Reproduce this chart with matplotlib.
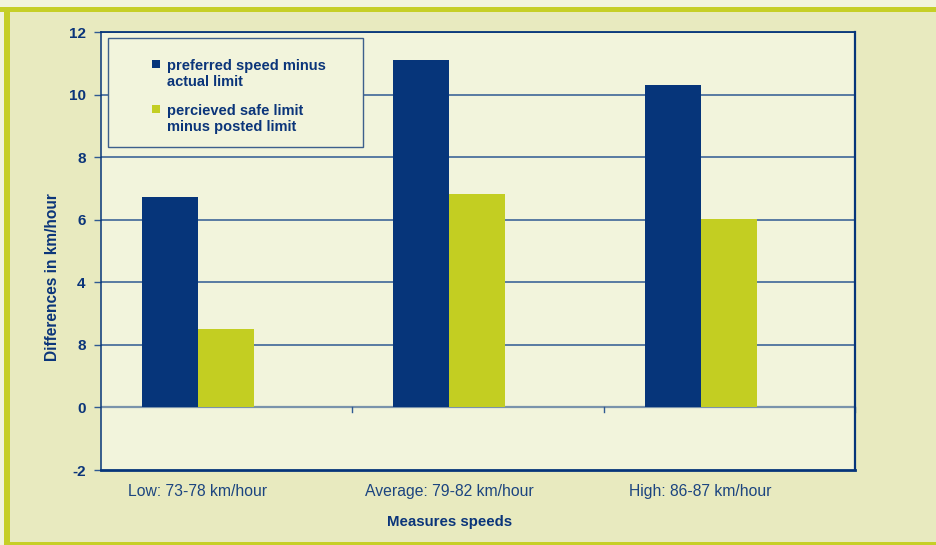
import matplotlib
matplotlib.use("Agg")
import matplotlib.pyplot as plt
from matplotlib.patches import Rectangle

# Data
categories = ["Low: 73-78 km/hour", "Average: 79-82 km/hour", "High: 86-87 km/hour"]
series_names = ["preferred speed minus\nactual limit", "percieved safe limit\nminus posted limit"]
preferred_minus_actual = [6.74, 11.12, 10.32]
perceived_minus_posted = [2.5, 6.81, 6.01]
y_ticks = [-2, 0, 2, 4, 6, 8, 10, 12]
y_tick_labels = ["-2", "0", "8", "4", "6", "8", "10", "12"]

# Colours
BLUE = "#06357a"
GREEN = "#c3ce22"
TEXT = "#0b357a"
TICKTEXT = "#1c4580"
PLOT_BG = "#f2f4dc"
FIG_BG = "#e8eabf"
FRAME = "#c6cf27"
GRID = "#2f5a92"
ZERO = "#7a93ab"

plt.rcParams["font.family"] = ["Liberation Sans", "DejaVu Sans"]

W, H = 936, 545
fig = plt.figure(figsize=(W / 100, H / 100), dpi=100, facecolor=FIG_BG)


def px_rect(x0, y0, x1, y1, color):
    fig.patches.append(Rectangle((x0 / W, 1 - y1 / H), (x1 - x0) / W, (y1 - y0) / H,
                                 transform=fig.transFigure, facecolor=color,
                                 edgecolor="none", zorder=0))


# Outer frame: light margin, green rule along top, left and bottom
px_rect(0, 0, W, 7, PLOT_BG)
px_rect(0, 0, 4, H, PLOT_BG)
px_rect(0, 7, W, 12, FRAME)
px_rect(4, 7, 10, H, FRAME)
px_rect(4, 542, W, H, FRAME)

ax_l, ax_t, ax_r, ax_b = 101, 32, 855, 470
ax = fig.add_axes([ax_l / W, 1 - ax_b / H, (ax_r - ax_l) / W, (ax_b - ax_t) / H])
ax.set_facecolor(PLOT_BG)

x = list(range(len(categories)))
bw = 0.223
ax.bar([i - bw / 2 for i in x], preferred_minus_actual, width=bw, color=BLUE, zorder=3)
ax.bar([i + bw / 2 for i in x], perceived_minus_posted, width=bw, color=GREEN, zorder=3)

ax.set_xlim(-0.386, 2.614)
ax.set_ylim(-2, 12)

# Horizontal grid
for v in y_ticks:
    if v > 0:
        ax.axhline(v, color=GRID, lw=1.1, zorder=1)
ax.axhline(0, color=ZERO, lw=1.6, zorder=2)
# Category boundary ticks hanging from the zero line
bounds = [0.614, 1.614, 2.614]
for b in bounds:
    ax.plot([b, b], [0, -0.16], color=GRID, lw=1.0, zorder=2, clip_on=False)

ax.set_yticks(y_ticks)
ax.set_yticklabels(y_tick_labels, fontsize=11, fontweight="bold", color=TEXT)
ax.tick_params(axis="y", length=5, width=1.0, color=GRID, pad=6)
ax.set_xticks(x)
ax.set_xticklabels(categories, fontsize=11.3, color=TICKTEXT)
ax.tick_params(axis="x", length=0, pad=10)

for side, lw in [("left", 1.1), ("right", 1.6), ("bottom", 2.0), ("top", 1.3)]:
    ax.spines[side].set_color(BLUE)
    ax.spines[side].set_linewidth(lw)

fig.text(53 / W, 1 - 277 / H, "Differences in km/hour", rotation=90, ha="center",
         va="center", fontsize=11.2, fontweight="bold", color=TEXT)
fig.text(450 / W, 1 - 522 / H, "Measures speeds", ha="center", va="center",
         fontsize=10.8, fontweight="bold", color=TEXT)

# Legend box
fig.patches.append(Rectangle((108 / W, 1 - 147 / H), (363 - 108) / W, (147 - 38) / H,
                             transform=fig.transFigure, facecolor=PLOT_BG,
                             edgecolor="#3d5f8c", lw=1.0, zorder=5))
for name, col, top in zip(series_names, [BLUE, GREEN], [60, 105]):
    fig.patches.append(Rectangle((152 / W, 1 - (top + 7.5) / H), 8 / W, 7.5 / H,
                                 transform=fig.transFigure, facecolor=col,
                                 edgecolor="none", zorder=6))
    fig.text(167 / W, 1 - (top - 1) / H, name, ha="left", va="top", fontsize=10.5,
             fontweight="bold", color=TEXT, linespacing=1.15, zorder=7)

fig.savefig("out.png", dpi=100, facecolor=FIG_BG)
